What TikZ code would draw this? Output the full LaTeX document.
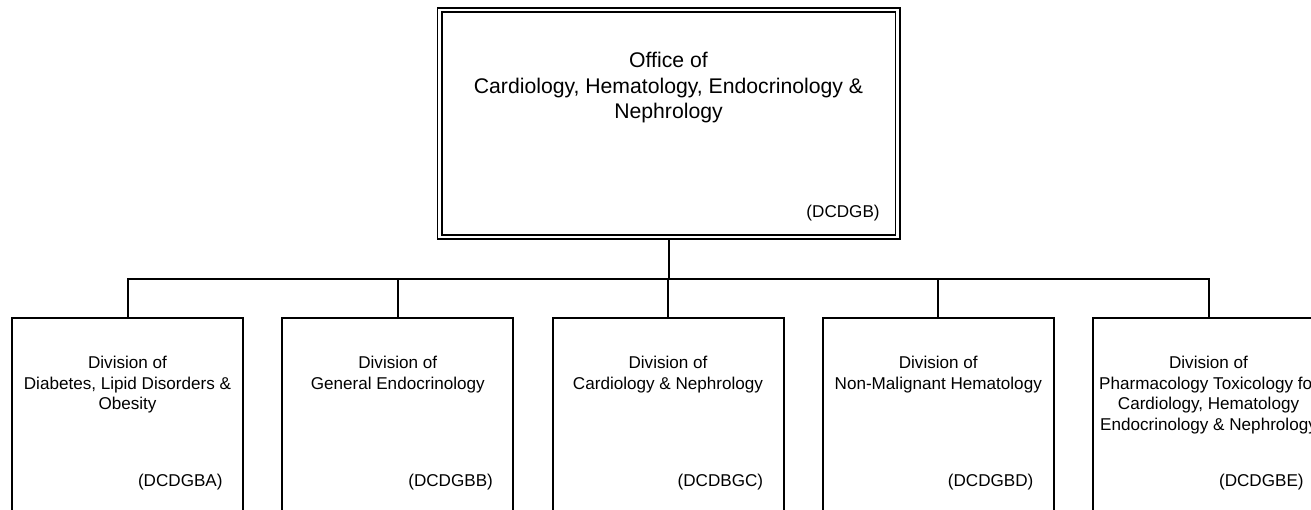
\documentclass[tikz,border=0pt]{standalone}
\usepackage{fontspec}
\setmainfont{Liberation Sans}
\usetikzlibrary{positioning}

\tikzset{
  office/.style={draw, double, line width=0.9pt, double distance=1.2pt, outer sep=1.5pt,
    minimum width=229pt, minimum height=113.5pt},
  division/.style={draw, line width=1pt, minimum width=115.5pt, minimum height=96.75pt},
  officetitle/.style={align=center, inner sep=0pt, font=\fontsize{10.6}{12.75}\selectfont},
  divtitle/.style={align=center, inner sep=0pt, font=\fontsize{8.55}{10.3}\selectfont},
  divcode/.style={anchor=base east, inner sep=0pt, font=\fontsize{8.55}{10.3}\selectfont},
  link/.style={line width=1pt},
}

\begin{document}
\begin{tikzpicture}[x=0.5pt, y=-0.5pt]
  \useasboundingbox (0,0) rectangle (1311,509);
  \clip (0,0) rectangle (1311,509);

  % office box
  \node[office] (office) at (668.5,123.5) {};
  \node[officetitle, below=22.5pt of office.north] (officename)
    {Office of\\Cardiology, Hematology, Endocrinology \&\\Nephrology};
  \node[divcode] (officecode) at ([xshift=-10.25pt, yshift=11.25pt]office.south east) {(DCDGB)};
  \coordinate (bus) at (668.5,279);

  \foreach \sub/\id [count=\n] in {
      {Diabetes, Lipid Disorders \&\\Obesity}/DCDGBA,
      General Endocrinology/DCDGBB,
      Cardiology \& Nephrology/DCDBGC,
      Non-Malignant Hematology/DCDGBD,
      {Pharmacology Toxicology for\\Cardiology, Hematology\\Endocrinology \& Nephrology}/DCDGBE} {
      % division boxes
      \node[division] (div\n) at ({-142.75+270.25*\n},414.25) {};
      \node[divtitle, below=19.6pt of div\n.north] (divname\n) {Division of\\\sub};
      \node[divcode] (divcode\n) at ([xshift=-10.5pt, yshift=12.65pt]div\n.south east) {(\id)};
      % tree lines
      \draw[link] (office.south) -- (office.south |- bus) -| (div\n.north);
    }
\end{tikzpicture}
\end{document}
